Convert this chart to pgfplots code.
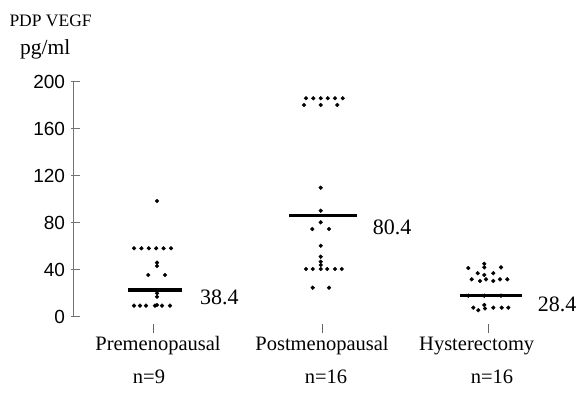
\documentclass[border=0pt]{standalone}
\usepackage{fontspec}
\setmainfont{Liberation Serif}
\setsansfont{Liberation Sans}
\usepackage{pgfplots}
\pgfplotsset{compat=1.18}
\begin{document}
\begin{tikzpicture}[x=1pt,y=1pt]
\path[use as bounding box] (0,0) rectangle (578,399);
\begin{axis}[
  at={(73pt,82.3pt)}, anchor=south west,
  scale only axis, width=505pt, height=235pt,
  xmin=73, xmax=578, ymin=0, ymax=200,
  clip=false,
  axis x line*=bottom, axis y line*=left,
  x axis line style={draw=none},
  y axis line style={draw=black!55, line width=0.8pt},
  tick align=center, major tick length=9pt,
  ytick={0,40,...,200},
  ytick style={draw=black!55, line width=0.8pt, xshift=2.5pt},
  xtick={153,322,488},
  xtick style={draw=black!60, line width=0.8pt, yshift=-11.3pt},
  xticklabels={{\hspace*{10pt}Premenopausal\\\hspace*{-8pt}n=9},{Postmenopausal\\\hspace*{8pt}n=16},{\hspace*{-22.6pt}Hysterectomy\\\hspace*{8pt}n=16}},
  xticklabel style={align=center, font=\fontsize{20.5}{33}\selectfont, yshift=-12pt},
  yticklabel style={font=\sffamily\fontsize{19}{19}\selectfont},
  /pgf/number format/assume math mode=true,
]
% Premenopausal
\addplot[only marks, mark=*, mark size=1.9pt, black] coordinates {
(157,98.5)
(134,58.2)(141.4,58.2)(148.8,58.2)(156.2,58.2)(163.6,58.2)(171,58.2)
(157,46)(157,43.1)
(148.3,35.5)(165,35.5)
(157,19.9)(157,17)
(134,9.4)(140,9.4)(146,9.4)(155,9.4)(157,10)(162,9.4)(170,9.4)
};
\addplot[black, line width=3.2pt] coordinates {(128,22.7)(182,22.7)};
% Postmenopausal
\addplot[only marks, mark=*, mark size=1.9pt, black] coordinates {
(306,185.9)(313.3,185.9)(320.7,185.9)(327.7,185.9)(335,185.9)(342.7,185.9)
(304,180.2)(320.7,180.2)(337.3,180.2)
(320.7,109.8)
(320.7,90.2)
(320.7,80.3)
(312.3,74.6)(329,74.6)
(320.7,60.4)
(320.7,51.1)(320.7,46.8)(320.7,44)
(306,40.6)(312.7,40.6)(320.7,40.6)(327.3,40.6)(335,40.6)(341.7,40.6)
(312.7,24.7)(329,24.7)
};
\addplot[black, line width=3.2pt] coordinates {(289,86)(357,86)};
% Hysterectomy
\addplot[only marks, mark=*, mark size=1.9pt, black] coordinates {
(468.3,41.4)(484.3,45)(484.3,42)(501,42)
(477.7,37)(493.3,37)(484.3,35.5)
(471.7,31.8)(480,30.4)(486,31.8)(493.3,30.4)(500,31.8)(507.3,31.8)
(468.3,17.9)(484.3,17.9)(501,17.9)
(473.3,7.7)(478.3,5.5)(484.3,10)(485,7)(493.3,7.7)(501.7,7.7)(508.3,7.7)
};
\addplot[black, line width=3.2pt] coordinates {(460,17.9)(521.7,17.9)};
\end{axis}
\node[anchor=base west, inner sep=0, font=\fontsize{22}{22}\selectfont] at (200,94) {38.4};
\node[anchor=base west, inner sep=0, font=\fontsize{22}{22}\selectfont] at (372.7,164) {80.4};
\node[anchor=base west, inner sep=0, font=\fontsize{22}{22}\selectfont] at (537.7,88) {28.4};
\node[anchor=base west, inner sep=0, font=\fontsize{17.5}{17.5}\selectfont] at (9.3,372.3) {PDP VEGF};
\node[anchor=base west, inner sep=0, font=\fontsize{21.5}{21.5}\selectfont] at (20,344) {pg/ml};
\end{tikzpicture}
\end{document}
